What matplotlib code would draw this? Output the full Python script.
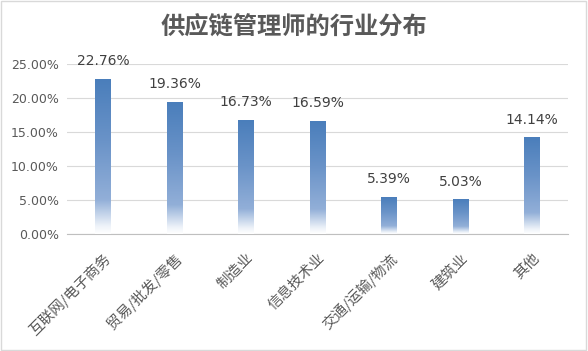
import matplotlib
matplotlib.use("Agg")
import matplotlib.pyplot as plt
import numpy as np
from matplotlib.colors import LinearSegmentedColormap
from matplotlib.patches import Rectangle

plt.rcParams['font.family'] = ['Noto Sans CJK SC', 'DejaVu Sans']

categories = ["互联网/电子商务", "贸易/批发/零售", "制造业", "信息技术业", "交通/运输/物流", "建筑业", "其他"]
values = [22.76, 19.36, 16.73, 16.59, 5.39, 5.03, 14.14]
yticks = [0, 5, 10, 15, 20, 25]
title = "供应链管理师的行业分布"

fig = plt.figure(figsize=(5.88, 3.51), dpi=100)
fig.patches.append(Rectangle((0.002, 0.003), 0.995, 0.993, transform=fig.transFigure,
                             fill=False, edgecolor="#d9d9d9", linewidth=1))
ax = fig.add_axes([0.114, 0.333, 0.852, 0.485])

cmap = LinearSegmentedColormap.from_list("g", [
    (0.0, "#ffffff"), (0.05, "#eef3f9"), (0.22, "#92afd8"),
    (0.6, "#6a93c8"), (1.0, "#4a7ebb")])
grad = np.linspace(0, 1, 256).reshape(-1, 1)
w = 0.22
x = np.arange(len(categories))
for xi, v in zip(x, values):
    ax.imshow(grad, aspect='auto', cmap=cmap, origin='lower',
              extent=[xi - w/2, xi + w/2, 0, v], zorder=3, interpolation='bilinear')
    ax.annotate(f"{v:.2f}%", (xi, v), xytext=(0, 8), textcoords='offset points',
                ha='center', va='bottom', fontsize=10, color="#404040",
                family=['DejaVu Sans'])

ax.set_xlim(-0.5, len(categories) - 0.5)
ax.set_ylim(0, 25)
ax.set_yticks(yticks)
ax.set_yticklabels([f"{t:.2f}%" for t in yticks], fontsize=9, color="#595959",
                   family=['DejaVu Sans'])
ax.set_xticks(x)
ax.set_xticklabels(categories, rotation=45, ha='right', rotation_mode='anchor',
                   fontsize=10.5, color="#595959")
ax.tick_params(axis='both', length=0)
ax.tick_params(axis='x', pad=12)
ax.tick_params(axis='y', pad=6)
ax.grid(axis='y', color="#d9d9d9", linewidth=0.8, zorder=0)
for s in ['top', 'right', 'left']:
    ax.spines[s].set_visible(False)
ax.spines['bottom'].set_color("#bfbfbf")
ax.set_axisbelow(True)

fig.text(0.5, 0.925, title, ha='center', va='center', fontsize=17.5, color="#595959",
         fontweight='bold')

fig.savefig("out.png", dpi=100)
